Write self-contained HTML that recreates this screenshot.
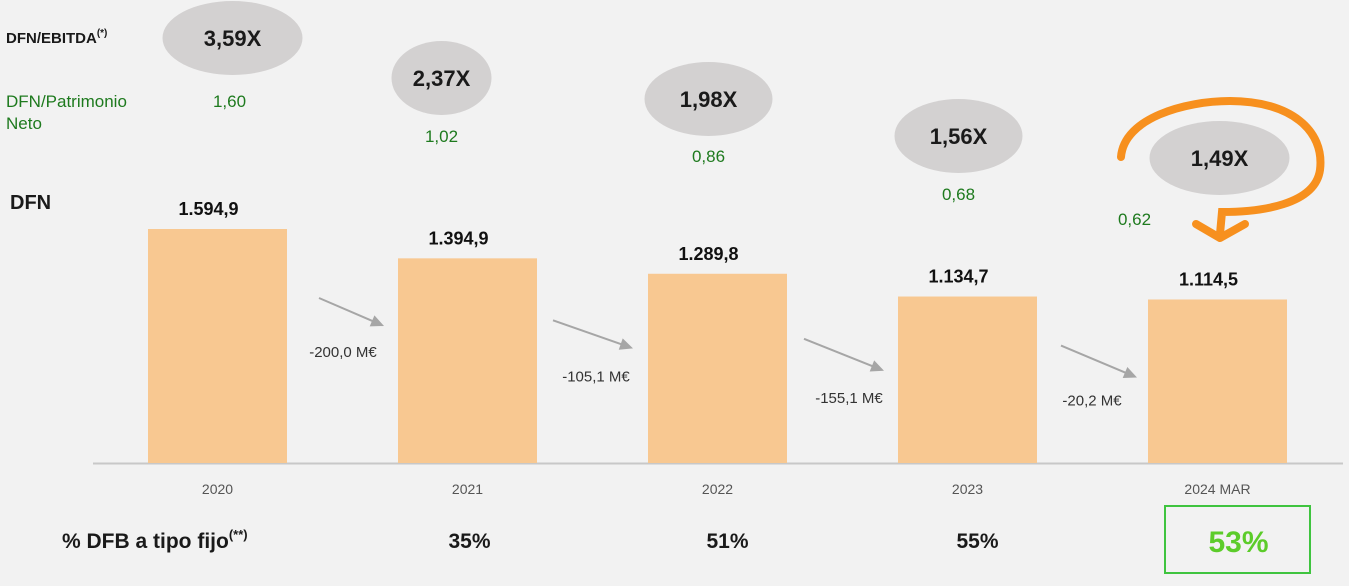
<!DOCTYPE html>
<html><head><meta charset="utf-8"><style>
html,body{margin:0;padding:0;background:#f2f2f2;}
svg{display:block;font-family:"Liberation Sans",sans-serif;}
</style></head><body>
<svg id="chart" width="1349" height="586" viewBox="0 0 1349 586">
<rect width="1349" height="586" fill="#f2f2f2"/>
<text x="6" y="43" font-size="15" font-weight="bold" fill="#1a1a1a">DFN/EBITDA<tspan font-size="10" dy="-7">(*)</tspan></text>
<text x="6" y="107" font-size="17" fill="#1e7a1e">DFN/Patrimonio</text>
<text x="6" y="129" font-size="17" fill="#1e7a1e">Neto</text>
<text x="10" y="209" font-size="20" font-weight="bold" fill="#1a1a1a">DFN</text>
<line x1="93" y1="463.5" x2="1343" y2="463.5" stroke="#c8c8c8" stroke-width="2"/>
<g id="marks"></g>
<path d="M1121,157 C1124,118 1185,101 1230,101 C1290,101 1325,130 1320,170 C1315,205 1260,212 1222,212 L1220,234" fill="none" stroke="#f7901e" stroke-width="8" stroke-linecap="round"/>
<path d="M1196,224 L1220,238 L1245,224" fill="none" stroke="#f7901e" stroke-width="8" stroke-linecap="round" stroke-linejoin="round"/>
<text x="62" y="548" font-size="21" font-weight="bold" fill="#1a1a1a">% DFB a tipo fijo<tspan font-size="13" dy="-9">(**)</tspan></text>
<rect x="1165" y="506" width="145" height="67" fill="none" stroke="#3fc43f" stroke-width="2"/>
</svg>
<script>
const categories=["2020","2021","2022","2023","2024 MAR"];
const dfnValues=[1594.9,1394.9,1289.8,1134.7,1114.5];
const dfnLabels=["1.594,9","1.394,9","1.289,8","1.134,7","1.114,5"];
const ebitdaLabels=["3,59X","2,37X","1,98X","1,56X","1,49X"];
const patrimonioLabels=["1,60","1,02","0,86","0,68","0,62"];
const changeLabels=["-200,0 M€","-105,1 M€","-155,1 M€","-20,2 M€"];
const fixedLabels=["","35%","51%","55%","53%"];
const NS="http://www.w3.org/2000/svg";
const g=document.getElementById('marks');
const base=463, scale=234/1594.9;
const xCenter=i=>217.5+i*250;
const yOf=v=>base-v*scale;
const bw=139;
function mk(t,a){const e=document.createElementNS(NS,t);for(const k in a)e.setAttribute(k,a[k]);g.appendChild(e);return e;}
const ellY=[38,78,99,136,158], ellRx=[70,50,64,64,70], ellDx=[15,-26,-9,-9,2], patY=[107,142,162,200,225], patDx=[12,-26,-9,-9,-83];
const fixDx=[0,2,10,10,21];
categories.forEach((c,i)=>{
  const x=xCenter(i), y=yOf(dfnValues[i]);
  const r=mk('rect',{x:x-bw/2,y:y,width:bw,height:base-y,fill:'#f8c891'});
  
  
  const t=mk('text',{x:x-9,y:y-14,'text-anchor':'middle','font-size':18,'font-weight':'bold',fill:'#111'});t.textContent=dfnLabels[i];
  
  
  const xl=mk('text',{x:x,y:494,'text-anchor':'middle','font-size':14,fill:'#555'});xl.textContent=c;
  
  
  const e=mk('ellipse',{cx:x+ellDx[i],cy:ellY[i],rx:ellRx[i],ry:37,fill:'#d3d1d1'});
  
  
  const et=mk('text',{x:x+ellDx[i],y:ellY[i]+8,'text-anchor':'middle','font-size':22,'font-weight':'bold',fill:'#1a1a1a'});et.textContent=ebitdaLabels[i];
  
  
  const pt=mk('text',{x:x+patDx[i],y:patY[i],'text-anchor':'middle','font-size':17,fill:'#1e7a1e'});pt.textContent=patrimonioLabels[i];
  
  
  if(fixedLabels[i]){
    const big=i===4;
    const ft=mk('text',{x:x+fixDx[i],y:big?552:548,'text-anchor':'middle','font-size':big?30:21,'font-weight':'bold',fill:big?'#5ccc2a':'#1a1a1a'});ft.textContent=fixedLabels[i];
    
    
  }
});
const arDx=[32,16,17,24], arDy=[69,62,65,49], arLen=[65,80,80,76], arH=[28,28,32,32], lbDx=[24,43,45,31], lbDy=[59,61,64,60];
for(let i=0;i<changeLabels.length;i++){
  const x0=xCenter(i)+bw/2+arDx[i], y0=yOf(dfnValues[i])+arDy[i];
  const x1=x0+arLen[i], y1=y0+arH[i];
  const ux=(x1-x0), uy=(y1-y0), L=Math.hypot(ux,uy), nx=ux/L, ny=uy/L;
  const a=mk('line',{x1:x0,y1:y0,x2:x1-nx*8,y2:y1-ny*8,stroke:'#a6a6a6','stroke-width':2});
  
  
  const bx=x1-nx*13, by=y1-ny*13;
  const h=mk('polygon',{points:`${x1},${y1} ${bx-ny*6},${by+nx*6} ${bx+ny*6},${by-nx*6}`,fill:'#a6a6a6'});
  
  
  const t=mk('text',{x:x0+lbDx[i],y:y0+lbDy[i],'text-anchor':'middle','font-size':15,fill:'#333'});t.textContent=changeLabels[i];
  
  
}
</script>
</body></html>
